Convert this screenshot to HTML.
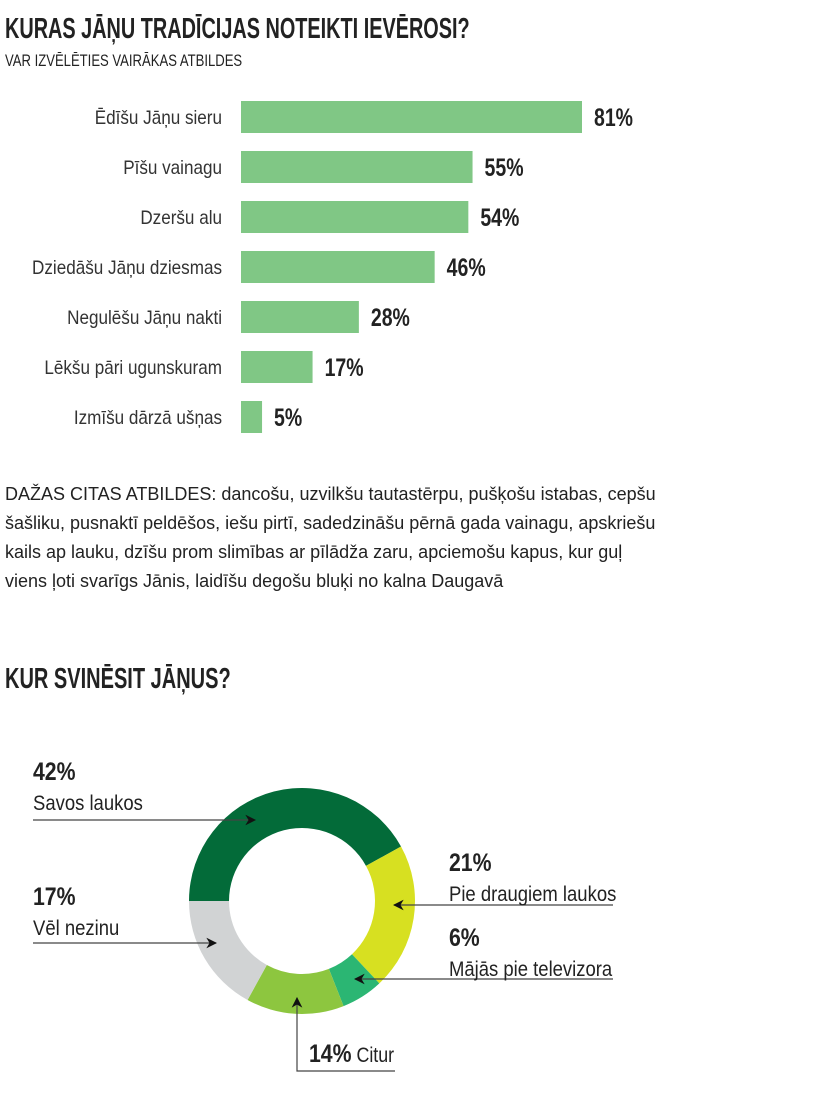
<!DOCTYPE html>
<html><head><meta charset="utf-8">
<style>
body{margin:0;width:820px;height:1096px;background:#fff;font-family:"Liberation Sans",sans-serif;color:#222;position:relative;overflow:hidden}
.t{position:absolute;white-space:nowrap;transform-origin:0 0}
</style></head><body>
<div class="t" style="left:5px;top:13px;font-size:29px;font-weight:bold;transform:scaleX(0.685)">KURAS JĀŅU TRADĪCIJAS NOTEIKTI IEVĒROSI?</div>
<div class="t" style="left:5px;top:51px;font-size:17px;transform:scaleX(0.77)">VAR IZVĒLĒTIES VAIRĀKAS ATBILDES</div>
<svg id="bars" style="position:absolute;left:0;top:0" width="820" height="450"></svg>
<div class="t" style="left:5px;top:480px;font-size:18px;line-height:29px;white-space:normal;width:662px">DAŽAS CITAS ATBILDES: dancošu, uzvilkšu tautastērpu, pušķošu istabas, cepšu šašliku, pusnaktī peldēšos, iešu pirtī, sadedzināšu pērnā gada vainagu, apskriešu kails ap lauku, dzīšu prom slimības ar pīlādža zaru, apciemošu kapus, kur guļ viens ļoti svarīgs Jānis, laidīšu degošu bluķi no kalna Daugavā</div>
<div class="t" style="left:5px;top:663px;font-size:29px;font-weight:bold;transform:scaleX(0.69)">KUR SVINĒSIT JĀŅUS?</div>
<svg id="donut" style="position:absolute;left:0;top:0" width="820" height="1096"></svg>
<script>
const categories=["Ēdīšu Jāņu sieru","Pīšu vainagu","Dzeršu alu","Dziedāšu Jāņu dziesmas","Negulēšu Jāņu nakti","Lēkšu pāri ugunskuram","Izmīšu dārzā ušņas"];
const values=[81,55,54,46,28,17,5];
const sliceLabels=["Savos laukos","Pie draugiem laukos","Mājās pie televizora","Citur","Vēl nezinu"];
const sliceValues=[42,21,6,14,17];
const NS="http://www.w3.org/2000/svg";
function mk(p,tag,a){const e=document.createElementNS(NS,tag);for(const k in a)e.setAttribute(k,a[k]);p.appendChild(e);return e;}
const bars=document.getElementById('bars');
const x0=241,pxPer=341/81,y0=101,step=50,bh=32;
const xs=v=>v*pxPer;
categories.forEach((c,i)=>{
  const y=y0+i*step;
  const r=mk(bars,'rect',{x:x0,y:y,width:xs(values[i]),height:bh,fill:'#80c785'});
  
  
  const l=mk(bars,'text',{transform:`translate(222,${y+bh/2+7}) scale(0.9,1)`,'text-anchor':'end','font-size':19,fill:'#333'});
  l.textContent=c;
  
  
  const v=mk(bars,'text',{transform:`translate(${x0+xs(values[i])+12},${y+bh/2+9}) scale(0.78,1)`,'font-size':25,'font-weight':'bold',fill:'#222'});
  v.textContent=values[i]+'%';
  
  
});
const d=document.getElementById('donut');
const cx=302,cy=901,R=113,r0=73;
const colors=['#036b39','#d7e021','#2bb673','#8dc63f','#d1d3d4'];
const tot=sliceValues.reduce((a,b)=>a+b,0);
let a=Math.PI;
function pt(rad,ang){return [cx+rad*Math.cos(ang),cy+rad*Math.sin(ang)];}
sliceValues.forEach((v,i)=>{
  const a1=a+v/tot*2*Math.PI;const lg=(a1-a)>Math.PI?1:0;
  const p1=pt(R,a),p2=pt(R,a1),p3=pt(r0,a1),p4=pt(r0,a);
  const p=mk(d,'path',{d:`M${p1}A${R},${R} 0 ${lg} 1 ${p2}L${p3}A${r0},${r0} 0 ${lg} 0 ${p4}Z`,fill:colors[i]});
  
  
  a=a1;
});
mk(d,'defs',{}).innerHTML='<marker id="ah" viewBox="0 0 10 10" refX="9" refY="5" markerWidth="9" markerHeight="9" orient="auto-start-reverse"><path d="M0,0L10,5L0,10L3,5Z" fill="#111"/></marker>';
const lines=[[33,820,255,820],[33,943,216,943],[613,905,394,905],[613,979,355,979]];
lines.forEach(l=>{const e=mk(d,'line',{x1:l[0],y1:l[1],x2:l[2],y2:l[3],stroke:'#444','stroke-width':1.2,'marker-end':'url(#ah)'});});
const pl=mk(d,'polyline',{points:'395,1071 297,1071 297,998',fill:'none',stroke:'#444','stroke-width':1.2,'marker-end':'url(#ah)'});


const labs=[[33,780,0],[449,871,1],[449,946,2],[33,905,4]];
labs.forEach(L=>{
  const i=L[2];
  const p=mk(d,'text',{transform:`translate(${L[0]},${L[1]}) scale(0.85,1)`,'font-size':25,'font-weight':'bold',fill:'#222'});p.textContent=sliceValues[i]+'%';
  
  
  const n=mk(d,'text',{transform:`translate(${L[0]},${L[1]+30}) scale(0.88,1)`,'font-size':21,fill:'#222'});n.textContent=sliceLabels[i];
  
  
});
const c=mk(d,'text',{transform:'translate(309,1062) scale(0.85,1)','font-size':21,fill:'#222'});
c.innerHTML='<tspan font-size="25" font-weight="bold">'+sliceValues[3]+'%</tspan> '+sliceLabels[3];


</script>
</body></html>
